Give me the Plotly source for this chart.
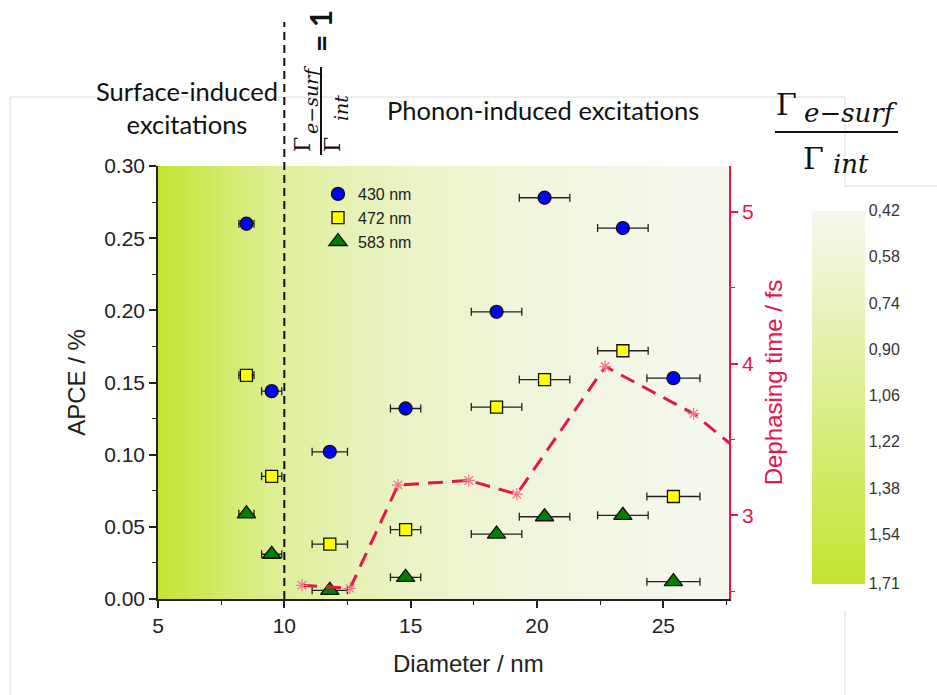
import plotly.graph_objects as go

# ---------------------------------------------------------------- data
DIAMETER = [8.5, 9.5, 11.8, 14.8, 18.4, 20.3, 23.4, 25.4]          # nm
DIAMETER_ERR = [0.3, 0.4, 0.7, 0.6, 1.0, 1.0, 1.0, 1.05]            # nm
APCE_430 = [0.260, 0.144, 0.102, 0.132, 0.199, 0.278, 0.257, 0.153]  # %
APCE_472 = [0.155, 0.085, 0.038, 0.048, 0.133, 0.152, 0.172, 0.071]  # %
APCE_583 = [0.059, 0.031, 0.006, 0.015, 0.045, 0.057, 0.058, 0.012]  # %

DEPH_DIAMETER = [10.7, 12.6, 14.5, 17.3, 19.2, 22.7, 26.2, 28.9]    # nm
DEPH_TIME = [2.54, 2.52, 3.20, 3.23, 3.14, 3.98, 3.67, 3.30]        # fs

# ratio Gamma_e-surf / Gamma_int across the diameter range (background shading)
BG_DIAMETER = [5, 6.25, 7.5, 8.75, 10, 12.5, 15, 17.5, 20, 22.5, 25, 27.6]
BG_RATIO = [1.71, 1.50, 1.32, 1.15, 1.00, 0.82, 0.69, 0.61, 0.55, 0.50, 0.46, 0.42]
RATIO_TICKS = [0.42, 0.58, 0.74, 0.90, 1.06, 1.22, 1.38, 1.54, 1.71]

SERIES = [
    ("430 nm", APCE_430, "circle", "#0000ff", 13),
    ("472 nm", APCE_472, "square", "#ffff00", 12),
    ("583 nm", APCE_583, "triangle-up", "#008000", 16),
]

# ---------------------------------------------------------------- layout helpers
W, H = 937, 695
L, R, T, B = 158, 729, 166, 599   # plot area edges (px)


def px(x):
    return (x - L) / (R - L)


def py(y):
    return (B - y) / (B - T)


RED = "#e3174b"
AXIS = "#222222"
FONT = "Liberation Sans"
SERIF = "DejaVu Serif"
CAPTION = "Lato"

fig = go.Figure()

# background shading, coloured by the rate ratio (negated so 0,42 sits on top of the bar)
neg_ratio = [-r for r in BG_RATIO]
fig.add_trace(go.Heatmap(
    x=BG_DIAMETER, y=[0, 0.30], z=[neg_ratio, neg_ratio],
    zsmooth="best", zmin=-max(RATIO_TICKS), zmax=-min(RATIO_TICKS),
    colorscale=[[0, "#c3e52f"], [1, "#f5f7ef"]],
    hoverinfo="skip", showscale=True,
    colorbar=dict(
        x=px(812), xanchor="left", xpad=0,
        y=py(397), yanchor="middle", lenmode="pixels", len=373, ypad=0,
        thickness=53, outlinewidth=0, ticks="",
        tickmode="array", tickvals=[-v for v in RATIO_TICKS],
        ticktext=[f"{v:.2f}".replace(".", ",") for v in RATIO_TICKS],
        tickfont=dict(family=FONT, size=16, color="#333333"),
    ),
))

for name, vals, sym, col, size in SERIES:
    fig.add_trace(go.Scatter(
        x=DIAMETER, y=vals, name=name, mode="markers",
        marker=dict(symbol=sym, color=col, size=size,
                    line=dict(color="#111111", width=1.3)),
        error_x=dict(type="data", array=DIAMETER_ERR, color="#222222",
                     thickness=1.3, width=4),
    ))

fig.add_trace(go.Scatter(
    x=DEPH_DIAMETER, y=DEPH_TIME, yaxis="y2", mode="lines+markers",
    showlegend=False,
    line=dict(color=RED, width=3, dash="15px,9px"),
    marker=dict(symbol="asterisk-open", size=10, color="#f07a8c",
                line=dict(color="#f07a8c", width=1.3)),
))

fig.update_layout(
    width=W, height=H,
    margin=dict(l=L, r=W - R, t=T, b=H - B, pad=0),
    paper_bgcolor="white", plot_bgcolor="white",
    font=dict(family=FONT, color="#222222"),
    showlegend=True,
    legend=dict(x=px(318), y=py(177), xanchor="left", yanchor="top",
                bgcolor="rgba(0,0,0,0)", font=dict(family=FONT, size=16),
                tracegroupgap=0, itemwidth=30),
    xaxis=dict(
        range=[5, 27.6], dtick=5, tick0=0, showgrid=False, zeroline=False,
        showline=True, linecolor=AXIS, linewidth=1.5,
        ticks="outside", ticklen=7, tickwidth=1.5, tickcolor=AXIS,
        minor=dict(dtick=2.5, tick0=0, ticks="outside", ticklen=4,
                   tickcolor=AXIS, tickwidth=1.2),
        tickfont=dict(size=21),
    ),
    xaxis2=dict(
        overlaying="x", side="top", anchor="y", range=[5, 27.6],
        dtick=2.5, tick0=0, showgrid=False, zeroline=False,
        showline=True, linecolor=AXIS, linewidth=1.5,
        ticks="inside", ticklen=6, tickwidth=1.5, tickcolor=AXIS,
        showticklabels=False,
    ),
    yaxis=dict(
        range=[0, 0.30], dtick=0.05, tick0=0, tickformat=".2f",
        showgrid=False, zeroline=False,
        showline=True, linecolor=AXIS, linewidth=1.5,
        ticks="outside", ticklen=7, tickwidth=1.5, tickcolor=AXIS,
        minor=dict(dtick=0.025, tick0=0, ticks="outside", ticklen=4,
                   tickcolor=AXIS, tickwidth=1.2),
        tickfont=dict(size=21),
        title=dict(text="APCE / %", font=dict(size=24), standoff=12),
    ),
    yaxis2=dict(
        overlaying="y", side="right", anchor="x", range=[2.45, 5.30],
        dtick=1, tick0=0, showgrid=False, zeroline=False,
        showline=True, linecolor=RED, linewidth=1.8,
        ticks="outside", ticklen=7, tickwidth=1.5, tickcolor=RED,
        minor=dict(dtick=0.5, tick0=0, ticks="outside", ticklen=4,
                   tickcolor=RED, tickwidth=1.2),
        tickfont=dict(size=21, color=RED),
        title=dict(text="Dephasing time / fs", font=dict(size=24, color=RED),
                   standoff=12),
    ),
)

# ---------------------------------------------------------------- shapes
shapes = [
    # boundary where Gamma_e-surf / Gamma_int = 1
    dict(type="line", xref="x", yref="paper", x0=10, x1=10, y0=0, y1=py(22),
         line=dict(color="#111111", width=2, dash="8px,5px")),
    # fraction bar of the rotated ratio label
    dict(type="line", xref="paper", yref="paper", x0=px(321), x1=px(321),
         y0=py(67), y1=py(155), line=dict(color="#111111", width=2)),
    # fraction bar of the colour-bar title
    dict(type="line", xref="paper", yref="paper", x0=px(775), x1=px(898),
         y0=py(132), y1=py(132), line=dict(color="#111111", width=2)),
]
# faint frame lines of the surrounding panel
frame = [((10, 97), (845, 97)), ((10, 97), (10, 695)), ((845, 97), (845, 186)),
         ((845, 186), (937, 186)), ((845, 610), (845, 695))]
for (xa, ya), (xb, yb) in frame:
    shapes.append(dict(type="line", xref="paper", yref="paper", layer="below",
                       x0=px(xa), x1=px(xb), y0=py(ya), y1=py(yb),
                       line=dict(color="#dcdcdc", width=1)))
fig.update_layout(shapes=shapes)

# ---------------------------------------------------------------- annotations
def note(text, x, y, size, family=CAPTION, angle=0, color="#111111", **kw):
    fig.add_annotation(text=text, x=px(x), y=py(y), xref="paper", yref="paper",
                       showarrow=False, textangle=angle,
                       font=dict(family=family, size=size, color=color),
                       xanchor="center", yanchor="middle", **kw)


# x-axis title
note("Diameter / nm", 468, 663, 24, family=FONT, color="#222222")

note("Surface-induced<br>excitations", 187, 108, 25.5)
note("Phonon-induced excitations", 543, 110, 25.5)

# rotated ratio label next to the dashed boundary
note("Γ", 303, 145, 22, family=SERIF, angle=-90)
note("<i>e−surf</i>", 311, 100, 19, family=SERIF, angle=-90)
note("Γ", 333, 145, 22, family=SERIF, angle=-90)
note("<i>int</i>", 341, 108, 19, family=SERIF, angle=-90)
note("<b>= 1</b>", 320, 31, 30, family=CAPTION, angle=-90)

# colour-bar title
note("Γ", 786, 104, 30, family=SERIF)
note("<i>e−surf</i>", 851, 113, 26, family=SERIF)
note("Γ", 814, 158, 30, family=SERIF)
note("<i>int</i>", 851, 164, 26, family=SERIF)

fig.write_html("out.html")
